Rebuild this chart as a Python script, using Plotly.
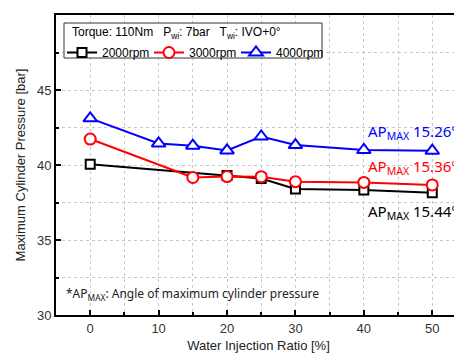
import plotly.graph_objects as go

# Data
x_2000 = [0, 20, 25, 30, 40, 50]
y_2000 = [40.05, 39.3, 39.1, 38.4, 38.33, 38.15]
x_3000 = [0, 15, 20, 25, 30, 40, 50]
y_3000 = [41.73, 39.17, 39.23, 39.22, 38.89, 38.84, 38.67]
x_4000 = [0, 10, 15, 20, 25, 30, 40, 50]
y_4000 = [43.11, 41.44, 41.29, 40.97, 41.9, 41.33, 41.0, 40.95]

series_names = ["2000rpm", "3000rpm", "4000rpm"]
colors = ["black", "red", "blue"]
symbols = ["square", "circle", "triangle-up"]
sizes = [9, 11, 12]

ap_labels = ["AP<sub>MAX</sub> 15.44°", "AP<sub>MAX</sub> 15.36°", "AP<sub>MAX</sub> 15.26°"]
ap_y = [36.9, 39.9, 42.2]

x_ticks = [0, 10, 20, 30, 40, 50]
y_ticks = [30, 35, 40, 45, 50]

FONT = "Liberation Sans, Arial, sans-serif"

# page has an 8px body margin; figure is offset by (8, 8)
OFF = 8
W, H = 462 - OFF, 363 - OFF
# plot area in reference pixel coords
L, R, T, B = 56, 461, 15, 315
def px(x):
    return (x - L) / (R - L)
def py(y):
    return (B - y) / (B - T)

fig = go.Figure()
for xs, ys, name, c, s, sz in zip([x_2000, x_3000, x_4000], [y_2000, y_3000, y_4000],
                                 series_names, colors, symbols, sizes):
    fig.add_trace(go.Scatter(
        x=xs, y=ys, name=name, mode="lines+markers",
        line=dict(color=c, width=2),
        marker=dict(symbol=s, size=sz, color="white", line=dict(color=c, width=2)),
    ))

for lbl, yy, c in zip(ap_labels, ap_y, colors):
    fig.add_annotation(x=40.3, y=yy, xref="x", yref="y", text=lbl, showarrow=False,
                       xanchor="left", yanchor="middle",
                       font=dict(family="Noto Sans, sans-serif", size=15, color=c))

fig.add_annotation(x=px(64), y=py(294), xref="paper", yref="paper",
                   text="*AP<sub>MAX</sub>: Angle of maximum cylinder pressure",
                   showarrow=False, xanchor="left", yanchor="middle",
                   font=dict(family="Noto Sans, sans-serif", size=12, color="#222"))

# legend box + header
fig.add_shape(type="rect", xref="paper", yref="paper",
              x0=px(64), x1=px(322), y0=py(58), y1=py(23),
              line=dict(color="#333", width=1), fillcolor="white", layer="above")
fig.add_annotation(x=px(70), y=py(33), xref="paper", yref="paper",
                   text="Torque: 110Nm   P<sub>wi</sub>: 7bar   T<sub>wi</sub>: IVO+0°",
                   showarrow=False, xanchor="left", yanchor="middle",
                   font=dict(family=FONT, size=12, color="black"))

axis_common = dict(
    showline=True, linecolor="black", linewidth=2, mirror=True,
    ticks="inside", ticklen=5, tickwidth=2, tickcolor="black",
    showgrid=True, gridcolor="#c8c8c8", griddash="dot", gridwidth=1,
    zeroline=False,
    tickfont=dict(family=FONT, size=13, color="#333"),
)

fig.update_xaxes(
    range=[-5, 54.2], tickvals=x_ticks,
    minor=dict(dtick=5, tick0=0, ticks="inside", ticklen=3, tickwidth=2, tickcolor="black",
               showgrid=True, gridcolor="#c8c8c8", griddash="dot"),
    title=dict(text="Water Injection Ratio [%]", font=dict(family=FONT, size=13, color="#222"),
               standoff=6),
    automargin=False,
    **axis_common,
)
fig.update_yaxes(
    range=[30, 50], tickvals=y_ticks,
    minor=dict(dtick=2.5, tick0=30, ticks="inside", ticklen=3, tickwidth=2, tickcolor="black",
               showgrid=True, gridcolor="#c8c8c8", griddash="dot"),
    title=dict(text="Maximum Cylinder Pressure [bar]", font=dict(family=FONT, size=13, color="#222"),
               standoff=8),
    automargin=False,
    **axis_common,
)

fig.update_layout(
    width=W, height=H,
    margin=dict(l=L - OFF, r=W - (R - OFF), t=T - OFF, b=H - (B - OFF), autoexpand=False),
    plot_bgcolor="white", paper_bgcolor="white",
    showlegend=True,
    legend=dict(
        orientation="h", x=px(62), y=py(38), xanchor="left", yanchor="top",
        bgcolor="rgba(0,0,0,0)", borderwidth=0,
        font=dict(family=FONT, size=12, color="black"),
        itemwidth=30, tracegroupgap=0, entrywidth=42,
    ),
)

fig.write_html("out.html")
